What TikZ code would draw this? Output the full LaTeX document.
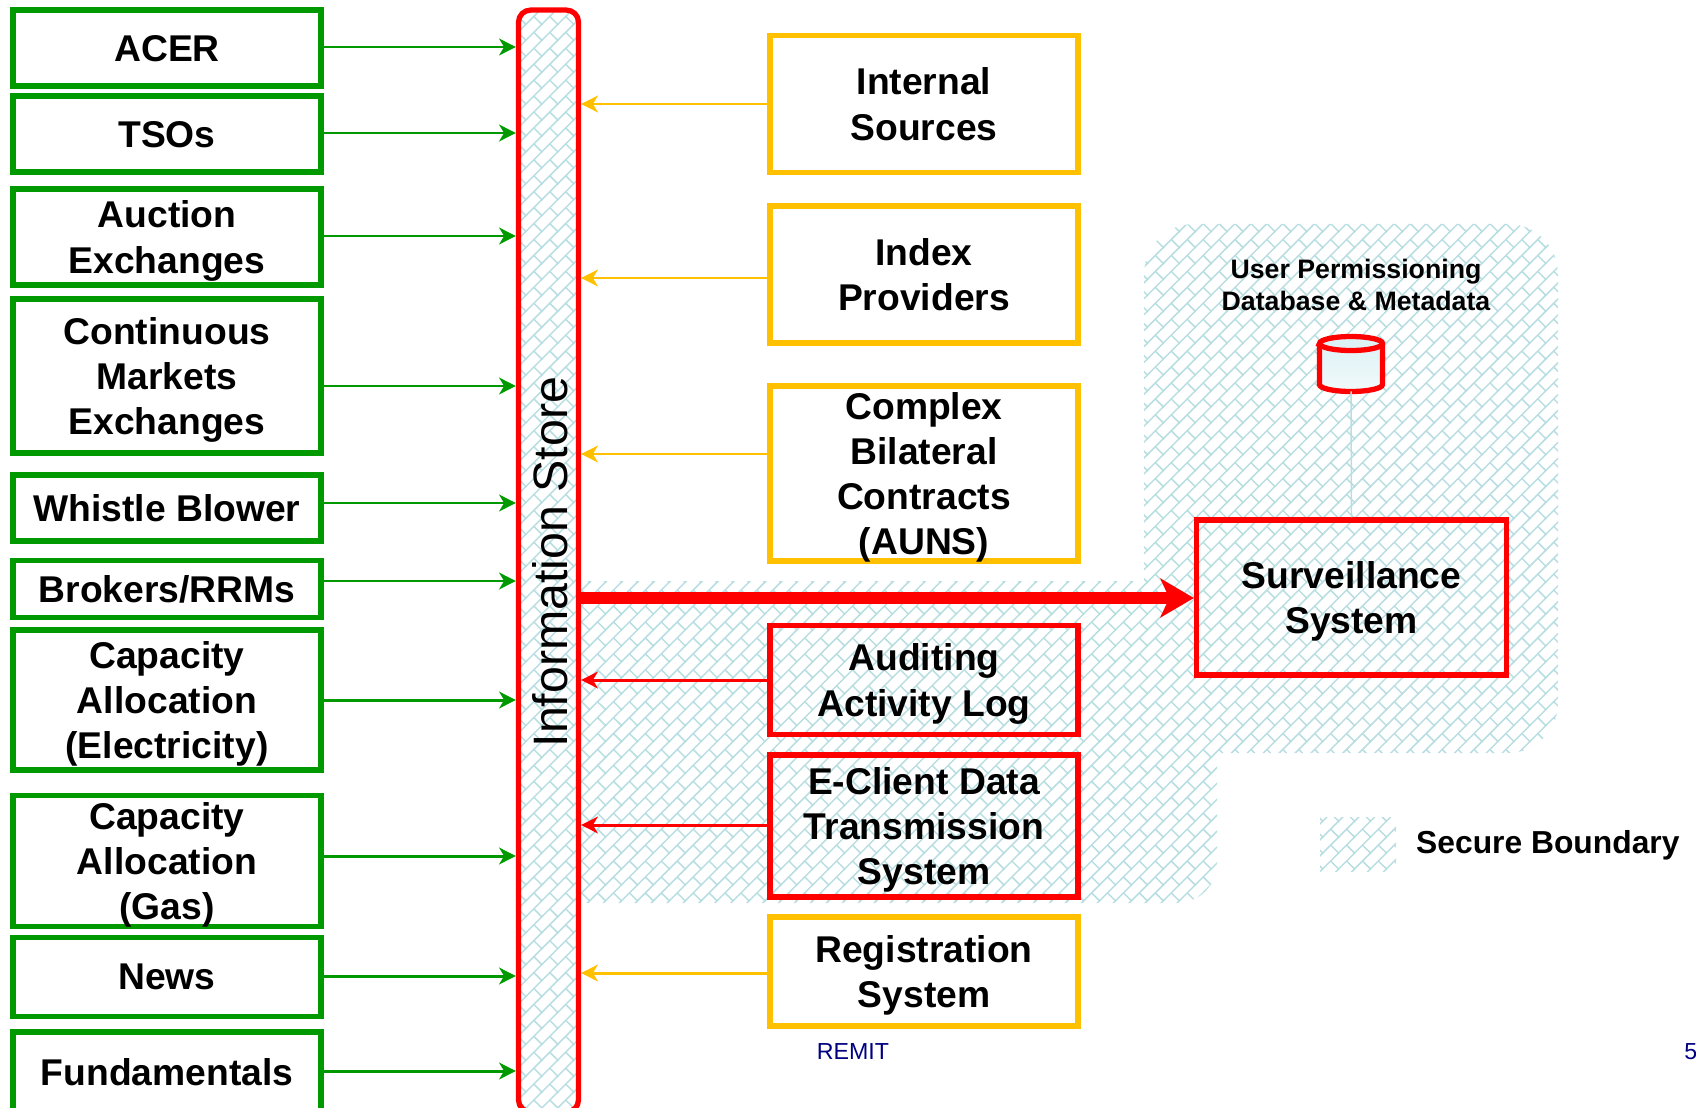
\documentclass[tikz,border=0pt]{standalone}
\usepackage{fontspec}
\setmainfont{Liberation Sans}
\usetikzlibrary{arrows.meta, patterns}

\definecolor{feedgreen}{HTML}{009A00}
\definecolor{feedyellow}{HTML}{FFC000}
\definecolor{feedred}{HTML}{FF0000}
\definecolor{hatchblue}{HTML}{B9DEE2}
\definecolor{footblue}{HTML}{000080}
\definecolor{basetop}{HTML}{DBF1F5}
\definecolor{basebottom}{HTML}{F1FAFB}

\pgfdeclarepatternformonly{brick}{\pgfqpoint{-1pt}{-1pt}}{\pgfqpoint{10.07pt}{10.07pt}}{\pgfqpoint{9.07pt}{9.07pt}}{
    \pgfsetlinewidth{0.85pt}
    \pgfpathmoveto{\pgfqpoint{-0.5pt}{-0.5pt}}
    \pgfpathlineto{\pgfqpoint{9.57pt}{9.57pt}}
    \pgfpathmoveto{\pgfqpoint{4.53pt}{4.53pt}}
    \pgfpathlineto{\pgfqpoint{9.07pt}{0pt}}
    \pgfusepath{stroke}
}

\tikzset{
    box/.style={draw, line width=3pt, rectangle, align=center, inner sep=0pt, text depth=0pt,
        font=\fontsize{21.2}{25.7}\selectfont\bfseries, minimum width=6.16cm},
    srcbox/.style={box, draw=feedgreen},
    refbox/.style={box, draw=feedyellow},
    safebox/.style={box, draw=feedred},
    hatched/.style={pattern=brick, pattern color=hatchblue},
    feed/.style={line width=1.7pt, -{Stealth[length=9.5pt, width=9.5pt, inset=2.8pt]}},
    can/.style={x radius=0.63cm, y radius=0.14cm},
}

\begin{document}
\begin{tikzpicture}[x=0.02cm, y=-0.02cm]

    \useasboundingbox (0,0) rectangle (1696,1108);
    \clip (0,0) rectangle (1696,1108);

    % secure boundary
    \path[hatched] (580,581) -- (1144,581) [rounded corners=1cm] -- (1144,224) -- (1558,224) -- (1558,753)
        [sharp corners] -- (1217,753) [rounded corners=0.8cm] -- (1217,903) [sharp corners] -- (580,903) -- cycle;
    \node[hatched, minimum width=1.52cm, minimum height=1.08cm, inner sep=0pt] (Swatch) at (1358,844) {};
    \node[anchor=west, font=\fontsize{18.1}{22}\selectfont\bfseries] (Legend) at (1410,845) {Secure Boundary};

    % the store
    \node[draw=feedred, line width=3pt, hatched, rounded corners=0.24cm, minimum width=1.2cm,
        minimum height=22.04cm, inner sep=0pt] (Store) at (548.5,561) {};
    \node[rotate=90, font=\fontsize{27.5}{32}\selectfont] (StoreText) at (550,562) {Information Store};

    % sources
    \node[srcbox, minimum height=1.52cm] (ACER) at (167,48) {ACER};
    \node[srcbox, minimum height=1.52cm] (TSOs) at (167,134) {TSOs};
    \node[srcbox, minimum height=1.92cm] (Auction) at (167,237) {Auction\\Exchanges};
    \node[srcbox, minimum height=3.08cm] (Markets) at (167,376) {Continuous\\Markets\\Exchanges};
    \node[srcbox, minimum height=1.32cm] (Whistle) at (167,508) {Whistle Blower};
    \node[srcbox, minimum height=1.14cm] (Brokers) at (167,589) {Brokers/RRMs};
    \node[srcbox, minimum height=2.8cm] (Electricity) at (167,700) {Capacity\\Allocation\\(Electricity)};
    \node[srcbox, minimum height=2.62cm] (Gas) at (167,861) {Capacity\\Allocation\\(Gas)};
    \node[srcbox, minimum height=1.58cm] (News) at (167,977) {News};
    \node[srcbox, minimum height=1.6cm] (Fundamentals) at (167,1072) {Fundamentals};

    % references
    \node[refbox, minimum height=2.74cm] (Internal) at (924,104) {Internal\\Sources};
    \node[refbox, minimum height=2.74cm] (Index) at (924,274.5) {Index\\Providers};
    \node[refbox, minimum height=3.5cm] (Complex) at (924,473.5) {Complex\\Bilateral\\Contracts\\(AUNS)};
    \node[safebox, minimum height=2.18cm] (Auditing) at (924,680) {Auditing\\Activity Log};
    \node[safebox, minimum height=2.84cm] (EClient) at (924,826) {E-Client Data\\Transmission\\System};
    \node[refbox, minimum height=2.18cm] (Registration) at (924,971.5) {Registration\\System};

    % surveillance
    \node[safebox, minimum width=6.2cm, minimum height=3.1cm] (Surveillance) at (1351.5,597.5) {Surveillance\\System};
    \node[minimum width=1.26cm, minimum height=1.1cm, inner sep=0pt, outer sep=0pt] (Base) at (1351,364) {};
    \draw[draw=feedred, line width=3pt, top color=basetop, bottom color=basebottom]
        ([yshift=-0.14cm]Base.north west) -- ([yshift=0.14cm]Base.south west)
        arc[start angle=180, end angle=360, can] -- ([yshift=-0.14cm]Base.north east)
        arc[start angle=0, end angle=180, can] -- cycle;
    \draw[draw=feedred, line width=3pt] ([yshift=-0.14cm]Base.north west) arc[start angle=180, end angle=360, can];
    \node[align=center, font=\fontsize{15.2}{18.4}\selectfont\bfseries] (BaseText) at (1356,285)
        {User Permissioning\\Database \& Metadata};

    \node[text=footblue, font=\fontsize{13.2}{16}\selectfont] (Remit) at (853,1052) {REMIT};
    \node[text=footblue, anchor=west, inner sep=0pt, font=\fontsize{13.2}{16}\selectfont] (Page) at (1684,1052) {5};

    \foreach \n/\y in {ACER/47, TSOs/133, Auction/236, Markets/386, Whistle/503, Brokers/581,
        Electricity/700, Gas/856, News/976, Fundamentals/1071}{
        \draw[feed, color=feedgreen] (\n.east |- 0,\y) -- (Store.west |- 0,\y);
    }
    \foreach \n/\y in {Internal/104, Index/278, Complex/454, Registration/973}{
        \draw[feed, color=feedyellow] (\n.west |- 0,\y) -- (Store.east |- 0,\y);
    }
    \foreach \n/\y in {Auditing/680, EClient/825}{
        \draw[feed, color=feedred] (\n.west |- 0,\y) -- (Store.east |- 0,\y);
    }

    \draw[line width=6.5pt, color=feedred, -{Stealth[length=19pt, width=22pt, inset=5pt]}]
        (Store.east |- 0,598) -- (Surveillance.west |- 0,598);
    \draw[line width=0.85pt, color=hatchblue] (Base.south) -- (Surveillance.north);

\end{tikzpicture}
\end{document}
